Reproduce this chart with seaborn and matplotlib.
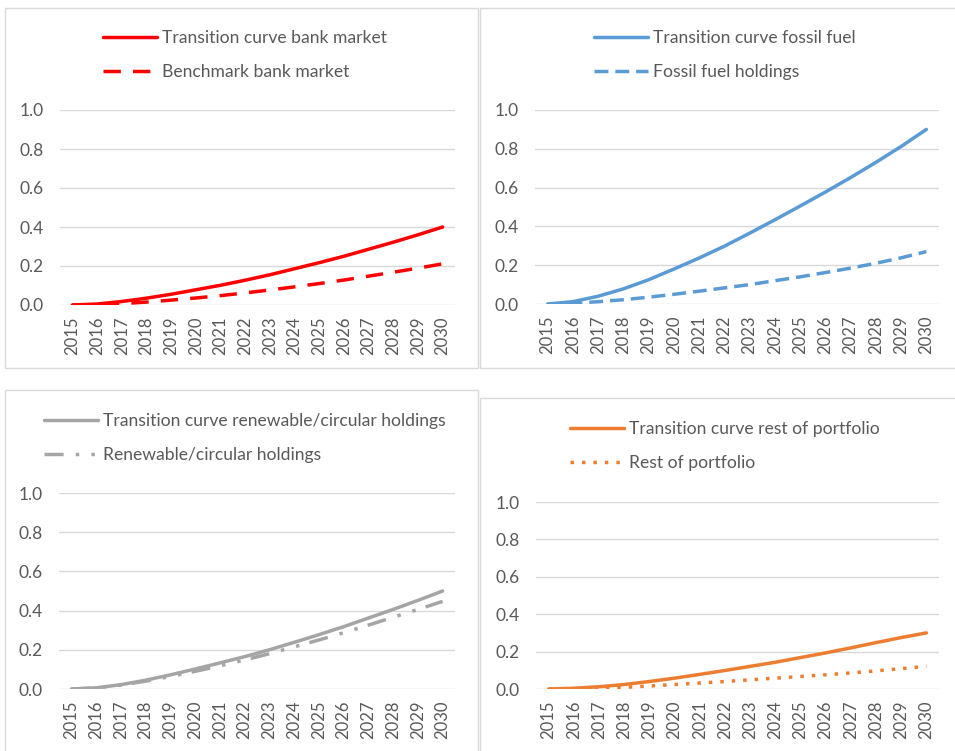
import matplotlib
matplotlib.use("Agg")
import matplotlib.pyplot as plt
import seaborn as sns
import pandas as pd
from matplotlib.patches import Rectangle

years = list(range(2015, 2031))

bank_transition = [0, 0.005, 0.018, 0.035, 0.055, 0.078, 0.101, 0.127, 0.155, 0.186, 0.217, 0.25, 0.286, 0.322, 0.36, 0.40]
bank_benchmark = [0, 0.002, 0.007, 0.015, 0.025, 0.036, 0.048, 0.062, 0.077, 0.093, 0.11, 0.128, 0.148, 0.168, 0.189, 0.211]

fossil_transition = [0, 0.012, 0.04, 0.078, 0.125, 0.18, 0.237, 0.298, 0.365, 0.434, 0.505, 0.577, 0.652, 0.73, 0.812, 0.90]
fossil_holdings = [0, 0.003, 0.012, 0.022, 0.035, 0.05, 0.066, 0.083, 0.10, 0.12, 0.14, 0.162, 0.185, 0.21, 0.238, 0.27]

renew_transition = [0, 0.006, 0.022, 0.045, 0.072, 0.102, 0.133, 0.165, 0.20, 0.238, 0.277, 0.318, 0.362, 0.406, 0.452, 0.50]
renew_holdings = [0, 0.005, 0.02, 0.04, 0.064, 0.09, 0.118, 0.148, 0.18, 0.215, 0.25, 0.287, 0.326, 0.366, 0.406, 0.447]

rest_transition = [0, 0.004, 0.012, 0.024, 0.04, 0.058, 0.078, 0.099, 0.121, 0.143, 0.168, 0.193, 0.22, 0.248, 0.275, 0.30]
rest_holdings = [0, 0.001, 0.004, 0.009, 0.016, 0.024, 0.032, 0.04, 0.049, 0.058, 0.067, 0.076, 0.086, 0.097, 0.109, 0.121]

y_ticks = [0.0, 0.2, 0.4, 0.6, 0.8, 1.0]
y_tick_labels = ["0.0", "0.2", "0.4", "0.6", "0.8", "1.0"]

panels = [
    dict(series=[("Transition curve bank market", bank_transition, "-"),
                 ("Benchmark bank market", bank_benchmark, (0, (5, 3.5)))],
         color="#FF0000", rect=(60, 455, 110, 305), box=(5, 478, 8, 368), leg=(245, 55)),
    dict(series=[("Transition curve fossil fuel", fossil_transition, "-"),
                 ("Fossil fuel holdings", fossil_holdings, (0, (4, 2)))],
         color="#5B9BD5", rect=(535, 939, 110, 304), box=(480, 960, 8, 368), leg=(725, 55)),
    dict(series=[("Transition curve renewable/circular holdings", renew_transition, "-"),
                 ("Renewable/circular holdings", renew_holdings, (0, (5.5, 3.5, 1, 3.5, 1, 3)))],
         color="#A5A5A5", rect=(59, 455, 493, 689), box=(5, 478, 390, 760), leg=(245, 438)),
    dict(series=[("Transition curve rest of portfolio", rest_transition, "-"),
                 ("Rest of portfolio", rest_holdings, (0, (1, 2.3)))],
         color="#ED7D31", rect=(536, 939, 502, 689), box=(480, 960, 398, 760), leg=(725, 446)),
]

sns.set_theme(style="white")
plt.rcParams["font.family"] = ["Lato", "DejaVu Sans"]

W, H = 955, 751
fig = plt.figure(figsize=(W / 100, H / 100), dpi=100)
fig.patch.set_facecolor("white")

text_color = "#595959"
grid_color = "#D9D9D9"

for p in panels:
    bx0, bx1, by0, by1 = p["box"]
    fig.patches.append(Rectangle((bx0 / W, 1 - by1 / H), (bx1 - bx0) / W, (by1 - by0) / H,
                                 transform=fig.transFigure, fill=False,
                                 edgecolor=grid_color, linewidth=1.0, zorder=0))
    x0, x1, yt, yb = p["rect"]
    ax = fig.add_axes([x0 / W, 1 - yb / H, (x1 - x0) / W, (yb - yt) / H])
    ax.set_facecolor("none")
    for label, vals, ls in p["series"]:
        df = pd.DataFrame({"year": years, "value": vals})
        sns.lineplot(data=df, x="year", y="value", ax=ax, color=p["color"],
                     linewidth=2.5, linestyle=ls, label=label)
    ax.set_xlim(2014.5, 2030.5)
    ax.set_ylim(0, 1.0)
    ax.set_yticks(y_ticks)
    ax.set_yticklabels(y_tick_labels)
    ax.set_xticks(years)
    ax.set_xticklabels([str(y) for y in years], rotation=90)
    ax.tick_params(axis="x", length=0, pad=8.5, labelsize=12, labelcolor=text_color)
    ax.tick_params(axis="y", length=0, pad=12, labelsize=12.5, labelcolor=text_color)
    ax.set_xlabel("")
    ax.set_ylabel("")
    for s in ax.spines.values():
        s.set_visible(False)
    ax.yaxis.grid(True, color=grid_color, linewidth=1.0)
    ax.xaxis.grid(False)
    ax.set_axisbelow(True)
    lx, ly = p["leg"]
    leg = ax.legend(loc="center", bbox_to_anchor=(lx / W, 1 - ly / H),
                    bbox_transform=fig.transFigure, frameon=False,
                    fontsize=12.6, handlelength=3.1, handletextpad=0.3,
                    labelspacing=1.0, borderpad=0)
    for t in leg.get_texts():
        t.set_color(text_color)

fig.savefig("out.png", dpi=100, facecolor="white")
